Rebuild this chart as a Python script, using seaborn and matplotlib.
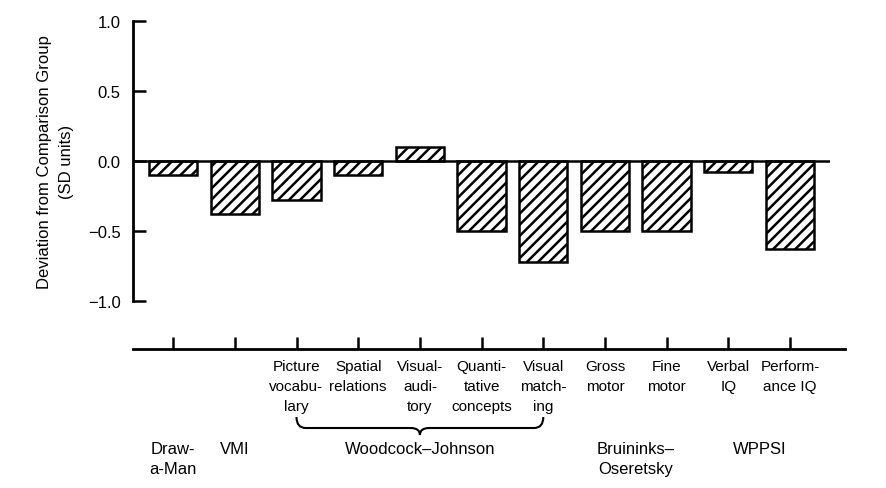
import numpy as np
import pandas as pd
import seaborn as sns
import matplotlib.pyplot as plt
from matplotlib.path import Path
from matplotlib.patches import PathPatch

# data
measures = ["Draw-a-Man", "VMI", "Picture vocabulary", "Spatial relations",
            "Visual-auditory", "Quantitative concepts", "Visual matching",
            "Gross motor", "Fine motor", "Verbal IQ", "Performance IQ"]
deviation = [-0.10, -0.38, -0.28, -0.10, 0.10, -0.50, -0.72, -0.50, -0.50, -0.08, -0.63]
tick_labels = ["", "", "Picture\nvocabu-\nlary", "Spatial\nrelations", "Visual-\naudi-\ntory",
               "Quanti-\ntative\nconcepts", "Visual\nmatch-\ning", "Gross\nmotor",
               "Fine\nmotor", "Verbal\nIQ", "Perform-\nance IQ"]
group_names = ["Draw-\na-Man", "VMI", "Woodcock\u2013Johnson", "Bruininks\u2013\nOseretsky", "WPPSI"]
group_pos = [0, 1, 4, 7.5, 9.5]

sns.set_style("white")
plt.rcParams['font.family'] = ['Liberation Sans Narrow', 'Liberation Sans', 'DejaVu Sans']
plt.rcParams['text.color'] = 'black'
plt.rcParams['axes.labelcolor'] = 'black'
plt.rcParams['ytick.color'] = 'black'
plt.rcParams['xtick.color'] = 'black'
plt.rcParams['hatch.linewidth'] = 1.8
plt.rcParams['hatch.color'] = 'black'

df = pd.DataFrame({'measure': measures, 'deviation': deviation})

fig = plt.figure(figsize=(8.86, 4.89), dpi=100)
W, H = 886, 489
ax = fig.add_axes([133 / W, 1 - 302 / H, 697 / W, 280 / H])

sns.barplot(data=df, x='measure', y='deviation', color='white', edgecolor='black',
            linewidth=1.8, width=0.78, hatch='///', ax=ax)
ax.axhline(0, color='black', lw=1.8, zorder=5)
ax.set_xlim(-0.65, 10.65)
ax.set_ylim(-1, 1)
ax.set_yticks([1.0, 0.5, 0.0, -0.5, -1.0])
ax.set_yticklabels(["1.0", "0.5", "0.0", "\u22120.5", "\u22121.0"], fontsize=12)
ax.tick_params(axis='y', direction='in', length=9, width=1.8, left=True, pad=9)
ax.set_xticks([])
ax.set_xlabel("")
ax.set_ylabel("Deviation from Comparison Group\n(SD units)", fontsize=12, labelpad=10,
              linespacing=1.6)
for s in ['top', 'right', 'bottom']:
    ax.spines[s].set_visible(False)
ax.spines['left'].set_linewidth(2)
ax.spines['left'].set_color('black')

# lower category axis
ax2 = fig.add_axes([133 / W, 0, 712 / W, (H - 350) / H])
ax2.set_xlim(-0.65, 10.89)
ax2.set_ylim(H - 350, 0)
for s in ['left', 'right', 'bottom']:
    ax2.spines[s].set_visible(False)
ax2.spines['top'].set_linewidth(2)
ax2.spines['top'].set_color('black')
ax2.xaxis.set_ticks_position('top')
ax2.set_xticks(range(len(measures)))
ax2.tick_params(axis='x', direction='out', length=9, width=1.8, top=True, labeltop=False)
ax2.set_yticks([])

for i, lab in enumerate(tick_labels):
    if lab:
        ax2.text(i, 10, lab, ha='center', va='top', fontsize=11, linespacing=1.55)
for x, g in zip(group_pos, group_names):
    ax2.text(x, 92, g, ha='center', va='top', fontsize=12, linespacing=1.45)

# brace under Woodcock-Johnson subtests
a, b, m = 2, 6, 4
verts = [(a, 68), (a, 79), (a + 0.15, 79),
         (m - 0.15, 79), (m, 79), (m, 86),
         (m, 79), (m + 0.15, 79),
         (b - 0.15, 79), (b, 79), (b, 68)]
codes = [Path.MOVETO, Path.CURVE3, Path.CURVE3,
         Path.LINETO, Path.CURVE3, Path.CURVE3,
         Path.CURVE3, Path.CURVE3,
         Path.LINETO, Path.CURVE3, Path.CURVE3]
ax2.add_patch(PathPatch(Path(verts, codes), fill=False, lw=1.5, edgecolor='black'))

fig.savefig("out.png", dpi=100)
